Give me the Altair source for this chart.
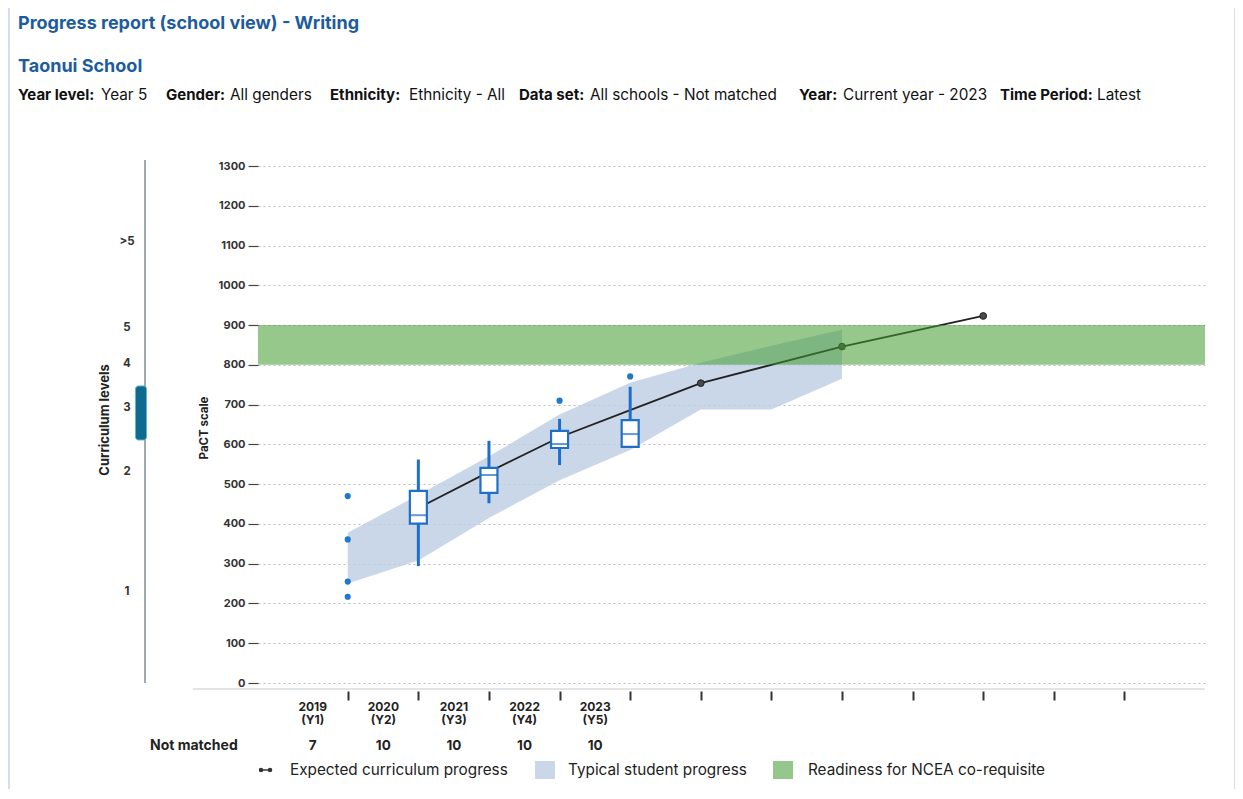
import altair as alt
import pandas as pd

# ---------------- data ----------------
box_years = [2020, 2021, 2022, 2023]
box_whisker_low = [294, 452, 548, 594]
box_q1 = [401, 478, 591, 594]
box_median = [422, 523, 601, 626]
box_q3 = [483, 541, 634, 661]
box_whisker_high = [562, 609, 664, 745]

point_years = [2019, 2019, 2019, 2019, 2022, 2023]
point_values = [470, 361, 255, 217, 710, 771]

band_years = [2019, 2020, 2021, 2022, 2023, 2024, 2025, 2026]
band_low = [250, 308, 415, 510, 586, 688, 688, 765]
band_high = [378, 473, 570, 675, 755, 805, 848, 888]

expected_years = [2020, 2021, 2022, 2023, 2024, 2026, 2028]
expected_values = [440, 531, 618, 686, 754, 846, 923]
expected_marker_years = [2024, 2026, 2028]

ncea_low = [800]
ncea_high = [900]

label_years = [2019, 2020, 2021, 2022, 2023]
label_texts = ["2019\n(Y1)", "2020\n(Y2)", "2021\n(Y3)", "2022\n(Y4)", "2023\n(Y5)"]
not_matched = [7, 10, 10, 10, 10]
tick_years = list(range(2019, 2031))

curriculum_labels = [">5", "5", "4", "3", "2", "1"]
curriculum_values = [1110, 892, 802, 691, 530, 229]
curriculum_low = [611]
curriculum_high = [747]

y_ticks = list(range(0, 1301, 100))

title_text = "Progress report (school view) - Writing"
school_text = "Taonui School"
filter_keys = ["Year level:", "Gender:", "Ethnicity:", "Data set:", "Year:", "Time Period:"]
filter_vals = ["Year 5", "All genders", "Ethnicity - All", "All schools - Not matched",
               "Current year - 2023", "Latest"]
legend_labels = ["Expected curriculum progress", "Typical student progress",
                 "Readiness for NCEA co-requisite"]

# ---------------- layout / style ----------------
W, H = 947, 523
FONT = "Inter"
BLUE = "#1f6fc8"
DARK = "#222222"

box_df = pd.DataFrame({"year": box_years, "lo": box_whisker_low, "q1": box_q1,
                       "med": box_median, "q3": box_q3, "hi": box_whisker_high})
pts_df = pd.DataFrame({"year": point_years, "v": point_values})
band_df = pd.DataFrame({"year": band_years, "lo": band_low, "hi": band_high})
exp_df = pd.DataFrame({"year": expected_years, "v": expected_values})
exp_df["marker"] = exp_df["year"].isin(expected_marker_years)
ncea_df = pd.DataFrame({"lo": ncea_low, "hi": ncea_high})
lab_df = pd.DataFrame({"year": label_years, "lab": label_texts, "n": not_matched})
cur_df = pd.DataFrame({"label": curriculum_labels, "v": curriculum_values})
cur_rng = pd.DataFrame({"lo": curriculum_low, "hi": curriculum_high})
one = pd.DataFrame({"d": [0]})

xscale = alt.Scale(domain=[2017.8, 2031.07], nice=False, zero=False)
yscale = alt.Scale(domain=[-15, 1300], nice=False, zero=False)

xaxis = alt.Axis(values=tick_years, grid=False, domain=False, ticks=True,
                 tickSize=9, tickWidth=2, tickColor="#333", offset=2,
                 labels=False, title=None)
yaxis = alt.Axis(values=y_ticks, format="d", grid=True, gridDash=[2, 3],
                 gridColor="#bcbcbc", gridWidth=1, domain=False, tickSize=10,
                 tickColor="#444", tickWidth=1.2, labelFont=FONT, labelFontSize=11,
                 labelFontWeight="bold", labelColor="#333", labelPadding=3,
                 title="PaCT scale", titleFont=FONT, titleFontSize=11.5,
                 titleFontWeight="bold", titleColor=DARK, titlePadding=9)


def X(f):
    return alt.X(f, type="quantitative", scale=xscale, axis=xaxis)


def Y(f):
    return alt.Y(f, type="quantitative", scale=yscale, axis=yaxis)


def txt(text, x, y, size=14, weight="normal", color=DARK, align="left", angle=None):
    kw = dict(text=text, align=align, baseline="middle", font=FONT, fontSize=size,
              fontWeight=weight, color=color)
    if angle is not None:
        kw["angle"] = angle
    return alt.Chart(one).mark_text(**kw).encode(x=alt.value(x), y=alt.value(y))


layers = []

# frame of the card
layers.append(alt.Chart(one).mark_rect(fillOpacity=0, stroke="#c9d5e2", strokeWidth=1.5).encode(
    x=alt.value(-249), x2=alt.value(977), y=alt.value(-160), y2=alt.value(624)))

# bottom base line
layers.append(alt.Chart(one).mark_rule(color="#c8c8c8", strokeWidth=1).encode(
    x=alt.value(-65), x2=alt.value(W), y=alt.value(H)))

# typical student progress band
layers.append(alt.Chart(band_df).mark_area(color="#bccde2", opacity=0.8).encode(
    x=X("year"), y=Y("lo"), y2="hi"))

# expected curriculum progress line and markers
layers.append(alt.Chart(exp_df).mark_line(color=DARK, strokeWidth=1.8).encode(
    x=X("year"), y=Y("v")))
layers.append(alt.Chart(exp_df).transform_filter("datum.marker").mark_point(
    filled=True, fill="#4a4a4a", stroke=DARK, strokeWidth=1, size=45, opacity=1).encode(
    x=X("year"), y=Y("v")))

# NCEA readiness band (drawn on top, translucent)
layers.append(alt.Chart(ncea_df).mark_rect(color="#3f9a2e", opacity=0.55).encode(
    x=alt.value(0), x2=alt.value(W), y=Y("lo"), y2="hi"))

# box plots
layers.append(alt.Chart(box_df).mark_rule(color=BLUE, strokeWidth=3).encode(
    x=X("year"), y=Y("lo"), y2="hi"))
layers.append(alt.Chart(box_df).mark_bar(size=17, fill="white", stroke=BLUE,
                                         strokeWidth=2.2).encode(
    x=X("year"), y=Y("q1"), y2="q3"))
layers.append(alt.Chart(box_df).mark_tick(orient="horizontal", size=17, thickness=2,
                                          color=BLUE).encode(
    x=X("year"), y=Y("med")))
layers.append(alt.Chart(pts_df).mark_circle(color="#1f78c8", size=38, opacity=1).encode(
    x=X("year"), y=Y("v")))

# x labels (between ticks) and Not matched row
layers.append(alt.Chart(lab_df).mark_text(align="center", baseline="top", dx=-35,
                                          lineBreak="\n", lineHeight=13, font=FONT,
                                          fontSize=12, fontWeight="bold",
                                          color=DARK).encode(
    x=X("year"), y=alt.value(H + 13), text="lab:N"))
layers.append(txt("Not matched", -108, 580, size=14, weight="bold"))
layers.append(alt.Chart(lab_df).mark_text(align="center", baseline="middle", dx=-35,
                                          font=FONT, fontSize=13.5, fontWeight="bold",
                                          color=DARK).encode(
    x=X("year"), y=alt.value(580), text="n:N"))

# curriculum levels axis
layers.append(alt.Chart(one).mark_rule(color="#7f8c99", strokeWidth=1.5).encode(
    x=alt.value(-113), y=alt.value(-6), y2=alt.value(H - 6)))
layers.append(alt.Chart(cur_rng).mark_bar(size=11, color="#0e6a8e", cornerRadius=3,
                                          stroke="#5fb4d8", strokeWidth=1).encode(
    x=alt.value(-117), y=Y("lo"), y2="hi"))
layers.append(alt.Chart(cur_df).mark_text(align="center", baseline="middle", font=FONT,
                                          fontSize=11.5, fontWeight="bold",
                                          color="#333").encode(
    x=alt.value(-131), y=Y("v"), text="label:N"))
layers.append(txt("Curriculum levels", -153, 254, size=13, weight="bold",
                  align="center", angle=270))

# header texts
layers.append(txt(title_text, -240, -142, size=18, weight="bold", color="#1d5c9c"))
layers.append(txt(school_text, -240, -99, size=18, weight="bold", color="#1d5c9c"))
key_x = [-240, -92, 72, 261, 541, 742]
val_x = [-157, -28, 151, 332, 585, 839]
for k, v, kx, vx in zip(filter_keys, filter_vals, key_x, val_x):
    layers.append(txt(k, kx, -71, size=15, weight="bold", color="#111"))
    layers.append(txt(v, vx, -71, size=15.3, color="#111"))

# legend
LY = 604
layers.append(alt.Chart(one).mark_rule(color="#333", strokeWidth=1.5).encode(
    x=alt.value(3), x2=alt.value(12), y=alt.value(LY)))
for cx in (3, 12):
    layers.append(alt.Chart(one).mark_circle(color="#333", size=20, opacity=1).encode(
        x=alt.value(cx), y=alt.value(LY)))
layers.append(txt(legend_labels[0], 32, LY, size=15.3))
layers.append(alt.Chart(one).mark_rect(color="#c9d7e8").encode(
    x=alt.value(277), x2=alt.value(297), y=alt.value(LY - 9), y2=alt.value(LY + 9)))
layers.append(txt(legend_labels[1], 310, LY, size=15.3))
layers.append(alt.Chart(one).mark_rect(color="#95c78c").encode(
    x=alt.value(515), x2=alt.value(535), y=alt.value(LY - 9), y2=alt.value(LY + 9)))
layers.append(txt(legend_labels[2], 550, LY, size=15.3))

chart = alt.layer(*layers).properties(
    width=W, height=H,
    autosize=alt.AutoSizeParams(type="none"),
    padding={"left": 250, "top": 158, "right": 30, "bottom": 100},
    background="white",
).configure_view(stroke=None)

chart.save("out.html", embed_options={"renderer": "svg", "actions": False})
